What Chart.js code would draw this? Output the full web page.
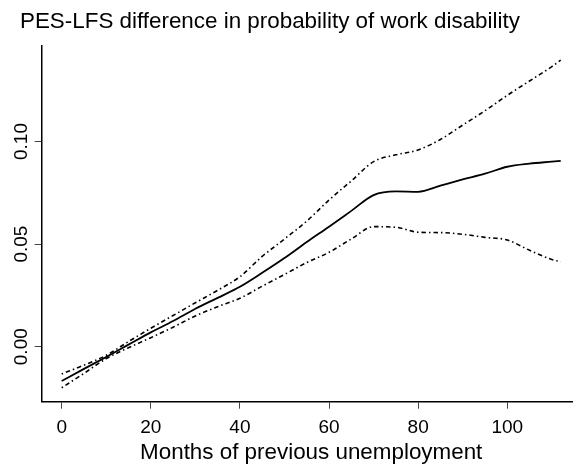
<!DOCTYPE html>
<html>
<head>
<meta charset="utf-8">
<script src="https://cdn.jsdelivr.net/npm/chart.js@4.4.1/dist/chart.umd.min.js"></script>
<style>
  html, body { margin: 0; padding: 0; background: #ffffff; }
  #wrap { width: 573px; height: 471px; }
</style>
</head>
<body>
<div id="wrap"><canvas id="c" width="573" height="471"></canvas></div>
<script>
// Months of previous unemployment (x positions of the estimated curve)
const months = [0, 5, 10, 15, 20, 25, 30, 35, 40, 45, 50, 55, 60, 65, 70, 75, 80, 85, 90, 95, 100, 105, 110, 112];

// Fitted PES-LFS difference in probability of work disability
const fitValues = [-0.0167, -0.0108, -0.0050, 0.0010, 0.0070, 0.0125, 0.0185, 0.0238, 0.0292, 0.0360, 0.0432, 0.0510,
                   0.0585, 0.0662, 0.0739, 0.0757, 0.0755, 0.0785, 0.0815, 0.0843, 0.0877, 0.0892, 0.0902, 0.0906];

// Upper confidence band
const upperValues = [-0.0133, -0.0090, -0.0042, 0.0025, 0.0090, 0.0152, 0.0214, 0.0275, 0.0341, 0.0440, 0.0525, 0.0612,
                     0.0715, 0.0808, 0.0902, 0.0935, 0.0959, 0.1010, 0.1080, 0.1150, 0.1225, 0.1295, 0.1365, 0.1397];

// Lower confidence band
const lowerValues = [-0.0200, -0.0130, -0.0058, -0.0005, 0.0044, 0.0095, 0.0150, 0.0195, 0.0236, 0.0295, 0.0352, 0.0410,
                     0.0460, 0.0525, 0.0585, 0.0582, 0.0558, 0.0556, 0.0548, 0.0533, 0.0520, 0.0470, 0.0425, 0.0414];

// Axis tick values
const xTicks = [0, 20, 40, 60, 80, 100];
const yTicks = [0.00, 0.05, 0.10];

const titleText = 'PES-LFS difference in probability of work disability';
const xTitleText = 'Months of previous unemployment';

function toPoints(vals) { return months.map((m, i) => ({ x: m, y: vals[i] })); }

const FONT = '"Liberation Sans", Arial, Helvetica, sans-serif';
const dashPattern = [1.5, 3, 4.5, 3];

// shift the (left aligned) title block a little to the right, as in the original figure
const titleShift = {
  id: 'titleShift',
  beforeDraw(chart) {
    const tb = chart.titleBlock;
    if (tb && !tb._shifted) { tb.left += 20; tb.right += 20; tb._shifted = true; }
  }
};

// the original plot region runs a few pixels past the right edge of the picture
const PLOT_RIGHT = 580.7;
const extendRight = {
  id: 'extendRight',
  afterLayout(chart) {
    const xs = chart.scales.x;
    xs.right = PLOT_RIGHT;
    xs.width = xs.right - xs.left;
    xs.configure();
    xs._labelItems = null;
    chart.chartArea.right = PLOT_RIGHT;
    chart.chartArea.width = PLOT_RIGHT - chart.chartArea.left;
  }
};

new Chart(document.getElementById('c'), {
  type: 'line',
  data: {
    datasets: [
      { label: 'fit', data: toPoints(fitValues), borderColor: '#000', borderWidth: 1.8,
        pointRadius: 0, fill: false, cubicInterpolationMode: 'monotone' },
      { label: 'upper', data: toPoints(upperValues), borderColor: '#000', borderWidth: 1.6,
        borderDash: dashPattern, pointRadius: 0, fill: false, cubicInterpolationMode: 'monotone' },
      { label: 'lower', data: toPoints(lowerValues), borderColor: '#000', borderWidth: 1.6,
        borderDash: dashPattern, pointRadius: 0, fill: false, cubicInterpolationMode: 'monotone' }
    ]
  },
  plugins: [titleShift, extendRight],
  options: {
    responsive: false,
    animation: false,
    events: [],
    layout: { padding: { left: 0, right: 0, top: 0, bottom: 0 } },
    plugins: {
      legend: { display: false },
      tooltip: { enabled: false },
      title: {
        display: true, text: titleText, align: 'start', color: '#000',
        font: { family: FONT, size: 22.4, weight: 'normal', lineHeight: 1.2 },
        padding: { top: 8, bottom: 10.8 }
      }
    },
    scales: {
      x: {
        type: 'linear', min: -4.48, max: 116.48,
        afterFit: (s) => { s.height = 69.3; },
        afterBuildTicks: (s) => { s.ticks = xTicks.map(v => ({ value: v })); },
        border: { display: true, color: '#000', width: 1.5 },
        grid: { display: true, drawOnChartArea: false, drawTicks: true, tickLength: 7, color: '#444', lineWidth: 1 },
        ticks: { color: '#000', font: { family: FONT, size: 19 }, padding: 8, maxRotation: 0, autoSkip: false,
                 callback: (v) => String(v) },
        title: { display: true, text: xTitleText, color: '#000',
                 font: { family: FONT, size: 22.4 }, padding: { top: 0, bottom: 5 } }
      },
      y: {
        type: 'linear', min: -0.0268, max: 0.1467,
        afterFit: (s) => { s.width = 41.7; },
        afterBuildTicks: (s) => { s.ticks = yTicks.map(v => ({ value: v })); },
        border: { display: true, color: '#000', width: 1.5 },
        grid: { display: true, drawOnChartArea: false, drawTicks: true, tickLength: 7, color: '#444', lineWidth: 1 },
        ticks: { color: '#000', font: { family: FONT, size: 19 }, padding: -6, minRotation: 90, maxRotation: 90,
                 crossAlign: 'center', autoSkip: false, callback: (v) => Number(v).toFixed(2) }
      }
    }
  }
});
</script>
</body>
</html>
